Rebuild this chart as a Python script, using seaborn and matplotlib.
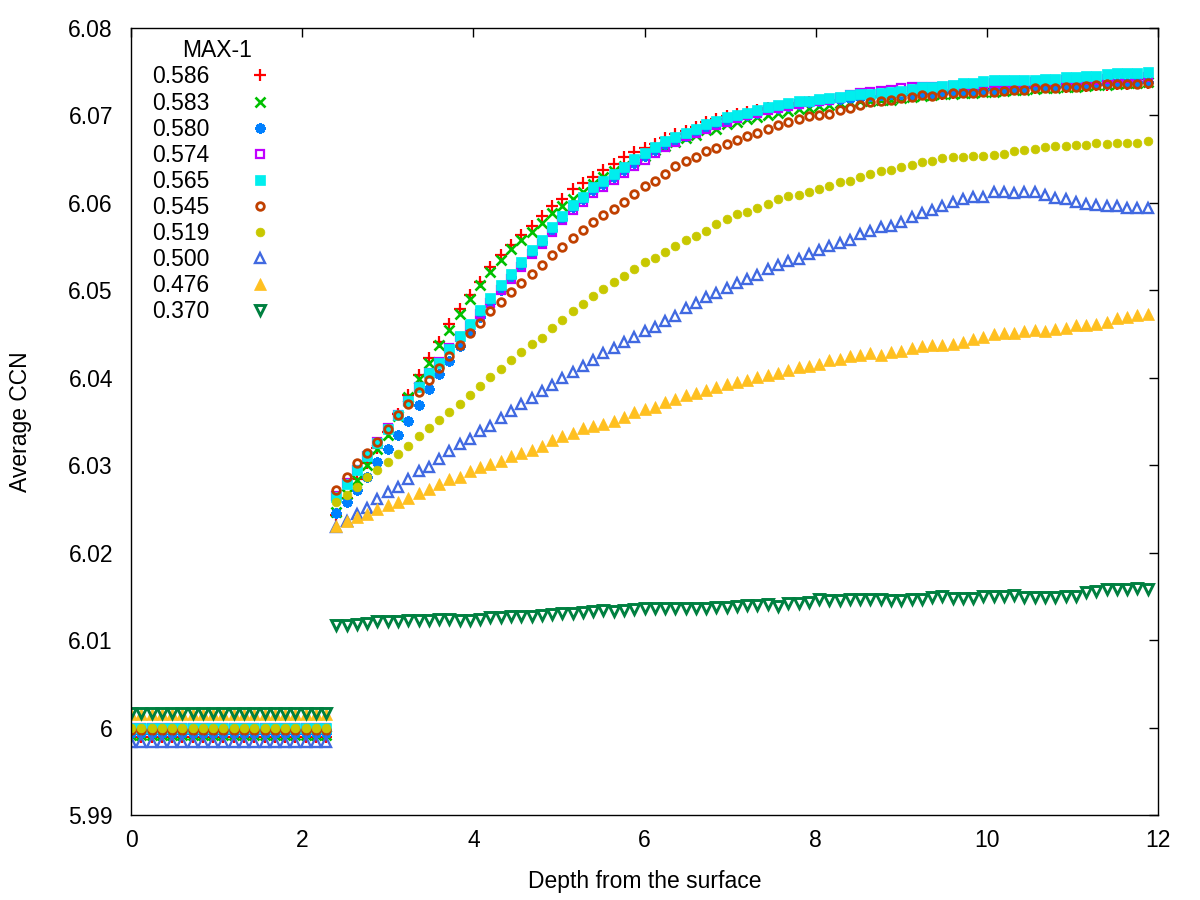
import numpy as np
import pandas as pd
import matplotlib
matplotlib.use("Agg")
import matplotlib.pyplot as plt
import seaborn as sns

# depth grid: 100 samples, 0.12 apart; first 20 are the flat surface layer
depth = np.round(np.arange(100) * 0.12, 2)

labels = ["0.586", "0.583", "0.580", "0.574", "0.565", "0.545", "0.519", "0.500", "0.476", "0.370"]

# level of the flat part (depth 0 .. 2.28)
flat_levels = [5.9989, 5.9991, 5.9994, 5.9999, 5.9999, 5.9997, 6.0000, 5.9983, 6.0015, 6.0017]

# values from depth 2.40 to 11.88
ccn_586 = [6.0243, 6.0262, 6.0284, 6.0302, 6.0320, 6.0338, 6.0359, 6.0380, 6.0403, 6.0423,
           6.0441, 6.0461, 6.0479, 6.0495, 6.0510, 6.0527, 6.0540, 6.0552, 6.0563, 6.0574,
           6.0585, 6.0596, 6.0604, 6.0616, 6.0623, 6.0630, 6.0638, 6.0645, 6.0652, 6.0658,
           6.0663, 6.0667, 6.0674, 6.0679, 6.0682, 6.0687, 6.0692, 6.0696, 6.0699, 6.0702,
           6.0704, 6.0706, 6.0708, 6.0710, 6.0712, 6.0714, 6.0715, 6.0716, 6.0717, 6.0718,
           6.0719, 6.0720, 6.0721, 6.0721, 6.0722, 6.0722, 6.0723, 6.0724, 6.0724, 6.0725,
           6.0726, 6.0727, 6.0728, 6.0728, 6.0729, 6.0730, 6.0730, 6.0731, 6.0731, 6.0732,
           6.0732, 6.0733, 6.0734, 6.0734, 6.0735, 6.0735, 6.0736, 6.0736, 6.0737, 6.0737]

ccn_583 = [6.0247, 6.0267, 6.0283, 6.0300, 6.0318, 6.0335, 6.0356, 6.0378, 6.0399, 6.0417,
           6.0437, 6.0455, 6.0473, 6.0490, 6.0506, 6.0521, 6.0535, 6.0547, 6.0558, 6.0567,
           6.0577, 6.0588, 6.0597, 6.0605, 6.0613, 6.0622, 6.0630, 6.0636, 6.0642, 6.0648,
           6.0654, 6.0660, 6.0665, 6.0670, 6.0674, 6.0678, 6.0683, 6.0685, 6.0690, 6.0693,
           6.0696, 6.0698, 6.0700, 6.0703, 6.0705, 6.0707, 6.0709, 6.0711, 6.0712, 6.0714,
           6.0715, 6.0716, 6.0717, 6.0718, 6.0718, 6.0720, 6.0721, 6.0722, 6.0723, 6.0724,
           6.0725, 6.0726, 6.0726, 6.0727, 6.0727, 6.0728, 6.0729, 6.0729, 6.0730, 6.0731,
           6.0731, 6.0732, 6.0733, 6.0734, 6.0735, 6.0735, 6.0736, 6.0737, 6.0737, 6.0738]

ccn_580 = [6.0245, 6.0258, 6.0272, 6.0287, 6.0304, 6.0319, 6.0335, 6.0351, 6.0369, 6.0387,
           6.0404, 6.0419, 6.0436, 6.0452, 6.0469, 6.0485, 6.0500, 6.0515, 6.0529, 6.0543,
           6.0555, 6.0569, 6.0582, 6.0595, 6.0604, 6.0615, 6.0622, 6.0630, 6.0638, 6.0646,
           6.0654, 6.0661, 6.0667, 6.0672, 6.0677, 6.0681, 6.0687, 6.0691, 6.0695, 6.0698,
           6.0700, 6.0703, 6.0707, 6.0709, 6.0711, 6.0713, 6.0715, 6.0717, 6.0718, 6.0719,
           6.0720, 6.0721, 6.0722, 6.0723, 6.0724, 6.0725, 6.0725, 6.0726, 6.0726, 6.0727,
           6.0727, 6.0728, 6.0729, 6.0729, 6.0730, 6.0731, 6.0731, 6.0732, 6.0732, 6.0733,
           6.0733, 6.0734, 6.0735, 6.0735, 6.0736, 6.0736, 6.0737, 6.0737, 6.0738, 6.0738]

ccn_574 = [6.0265, 6.0280, 6.0295, 6.0311, 6.0326, 6.0342, 6.0358, 6.0374, 6.0390, 6.0406,
           6.0418, 6.0434, 6.0447, 6.0459, 6.0473, 6.0486, 6.0500, 6.0513, 6.0527, 6.0541,
           6.0553, 6.0567, 6.0580, 6.0592, 6.0601, 6.0611, 6.0618, 6.0626, 6.0634, 6.0642,
           6.0649, 6.0657, 6.0664, 6.0670, 6.0676, 6.0680, 6.0685, 6.0689, 6.0693, 6.0697,
           6.0701, 6.0703, 6.0706, 6.0709, 6.0711, 6.0713, 6.0715, 6.0717, 6.0718, 6.0720,
           6.0723, 6.0726, 6.0727, 6.0728, 6.0729, 6.0731, 6.0732, 6.0732, 6.0733, 6.0733,
           6.0734, 6.0735, 6.0735, 6.0736, 6.0737, 6.0737, 6.0737, 6.0738, 6.0738, 6.0739,
           6.0739, 6.0740, 6.0740, 6.0741, 6.0741, 6.0742, 6.0743, 6.0743, 6.0744, 6.0744]

ccn_565 = [6.0264, 6.0279, 6.0294, 6.0310, 6.0325, 6.0341, 6.0357, 6.0373, 6.0389, 6.0405,
           6.0417, 6.0433, 6.0448, 6.0462, 6.0477, 6.0491, 6.0506, 6.0519, 6.0532, 6.0546,
           6.0558, 6.0572, 6.0585, 6.0598, 6.0607, 6.0618, 6.0625, 6.0633, 6.0641, 6.0650,
           6.0657, 6.0664, 6.0671, 6.0675, 6.0680, 6.0684, 6.0690, 6.0694, 6.0698, 6.0701,
           6.0703, 6.0706, 6.0710, 6.0712, 6.0714, 6.0716, 6.0717, 6.0719, 6.0720, 6.0721,
           6.0723, 6.0724, 6.0725, 6.0726, 6.0727, 6.0728, 6.0730, 6.0732, 6.0733, 6.0734,
           6.0735, 6.0737, 6.0737, 6.0739, 6.0740, 6.0741, 6.0741, 6.0741, 6.0741, 6.0742,
           6.0742, 6.0744, 6.0744, 6.0745, 6.0745, 6.0747, 6.0748, 6.0749, 6.0749, 6.0750]

ccn_545 = [6.0272, 6.0286, 6.0302, 6.0314, 6.0327, 6.0341, 6.0357, 6.0370, 6.0384, 6.0398,
           6.0411, 6.0425, 6.0438, 6.0451, 6.0463, 6.0476, 6.0487, 6.0498, 6.0508, 6.0519,
           6.0529, 6.0540, 6.0550, 6.0560, 6.0569, 6.0578, 6.0586, 6.0593, 6.0601, 6.0610,
           6.0619, 6.0625, 6.0633, 6.0642, 6.0648, 6.0653, 6.0659, 6.0663, 6.0667, 6.0672,
           6.0676, 6.0680, 6.0685, 6.0689, 6.0692, 6.0696, 6.0699, 6.0700, 6.0702, 6.0706,
           6.0709, 6.0712, 6.0715, 6.0717, 6.0718, 6.0720, 6.0721, 6.0723, 6.0722, 6.0725,
           6.0726, 6.0726, 6.0726, 6.0727, 6.0727, 6.0728, 6.0729, 6.0729, 6.0731, 6.0731,
           6.0731, 6.0732, 6.0733, 6.0734, 6.0735, 6.0736, 6.0736, 6.0736, 6.0736, 6.0737]

ccn_519 = [6.0258, 6.0266, 6.0275, 6.0286, 6.0295, 6.0304, 6.0313, 6.0322, 6.0333, 6.0343,
           6.0352, 6.0361, 6.0370, 6.0380, 6.0391, 6.0401, 6.0410, 6.0420, 6.0429, 6.0439,
           6.0446, 6.0457, 6.0466, 6.0476, 6.0484, 6.0493, 6.0501, 6.0509, 6.0516, 6.0524,
           6.0532, 6.0537, 6.0544, 6.0551, 6.0557, 6.0562, 6.0568, 6.0576, 6.0582, 6.0587,
           6.0590, 6.0594, 6.0599, 6.0604, 6.0608, 6.0609, 6.0613, 6.0616, 6.0619, 6.0624,
           6.0625, 6.0630, 6.0633, 6.0636, 6.0638, 6.0641, 6.0643, 6.0647, 6.0648, 6.0651,
           6.0652, 6.0653, 6.0654, 6.0654, 6.0655, 6.0656, 6.0659, 6.0660, 6.0662, 6.0664,
           6.0665, 6.0665, 6.0666, 6.0666, 6.0668, 6.0667, 6.0669, 6.0669, 6.0669, 6.0671]

ccn_500 = [6.0229, 6.0236, 6.0244, 6.0251, 6.0261, 6.0269, 6.0275, 6.0284, 6.0293, 6.0298,
           6.0307, 6.0316, 6.0324, 6.0330, 6.0339, 6.0345, 6.0354, 6.0362, 6.0370, 6.0377,
           6.0385, 6.0392, 6.0400, 6.0407, 6.0413, 6.0420, 6.0428, 6.0434, 6.0441, 6.0447,
           6.0453, 6.0458, 6.0465, 6.0471, 6.0480, 6.0486, 6.0492, 6.0497, 6.0503, 6.0508,
           6.0513, 6.0517, 6.0524, 6.0529, 6.0533, 6.0536, 6.0541, 6.0546, 6.0551, 6.0554,
           6.0558, 6.0564, 6.0568, 6.0572, 6.0574, 6.0578, 6.0584, 6.0589, 6.0592, 6.0596,
           6.0601, 6.0605, 6.0607, 6.0607, 6.0612, 6.0612, 6.0611, 6.0612, 6.0613, 6.0609,
           6.0606, 6.0605, 6.0601, 6.0599, 6.0598, 6.0597, 6.0596, 6.0594, 6.0594, 6.0594]

ccn_476 = [6.0231, 6.0236, 6.0241, 6.0244, 6.0250, 6.0254, 6.0258, 6.0263, 6.0268, 6.0273,
           6.0279, 6.0284, 6.0287, 6.0293, 6.0298, 6.0301, 6.0305, 6.0311, 6.0314, 6.0317,
           6.0322, 6.0329, 6.0333, 6.0337, 6.0343, 6.0345, 6.0347, 6.0351, 6.0355, 6.0361,
           6.0364, 6.0367, 6.0372, 6.0376, 6.0380, 6.0383, 6.0386, 6.0389, 6.0393, 6.0395,
           6.0398, 6.0401, 6.0403, 6.0405, 6.0409, 6.0412, 6.0414, 6.0416, 6.0420, 6.0422,
           6.0425, 6.0426, 6.0428, 6.0426, 6.0430, 6.0431, 6.0434, 6.0436, 6.0437, 6.0438,
           6.0439, 6.0441, 6.0444, 6.0447, 6.0450, 6.0451, 6.0451, 6.0453, 6.0455, 6.0454,
           6.0456, 6.0457, 6.0460, 6.0460, 6.0462, 6.0464, 6.0468, 6.0470, 6.0472, 6.0473]

ccn_370 = [6.0117, 6.0117, 6.0118, 6.0120, 6.0122, 6.0122, 6.0122, 6.0123, 6.0123, 6.0123,
           6.0124, 6.0124, 6.0123, 6.0123, 6.0124, 6.0126, 6.0126, 6.0128, 6.0128, 6.0128,
           6.0129, 6.0130, 6.0131, 6.0131, 6.0132, 6.0133, 6.0134, 6.0133, 6.0134, 6.0136,
           6.0137, 6.0137, 6.0137, 6.0137, 6.0137, 6.0137, 6.0137, 6.0138, 6.0138, 6.0139,
           6.0140, 6.0140, 6.0141, 6.0139, 6.0142, 6.0142, 6.0144, 6.0147, 6.0146, 6.0146,
           6.0147, 6.0147, 6.0147, 6.0147, 6.0146, 6.0146, 6.0147, 6.0147, 6.0149, 6.0150,
           6.0148, 6.0148, 6.0148, 6.0150, 6.0151, 6.0151, 6.0152, 6.0149, 6.0149, 6.0149,
           6.0149, 6.0151, 6.0151, 6.0155, 6.0156, 6.0158, 6.0158, 6.0158, 6.0160, 6.0158]

curves = [ccn_586, ccn_583, ccn_580, ccn_574, ccn_565, ccn_545, ccn_519, ccn_500, ccn_476, ccn_370]

x_ticks = [0, 2, 4, 6, 8, 10, 12]
x_ticklabels = ["0", "2", "4", "6", "8", "10", "12"]
y_ticks = [5.99, 6.00, 6.01, 6.02, 6.03, 6.04, 6.05, 6.06, 6.07, 6.08]
y_ticklabels = ["5.99", "6", "6.01", "6.02", "6.03", "6.04", "6.05", "6.06", "6.07", "6.08"]

# gnuplot-like point styles: (marker, color, filled, size, edge width)
styles = [
    ("+", "#ff0000", True, 9, 1.6),
    ("x", "#00c000", True, 7, 1.9),
    ((8, 2, 0), "#0080ff", True, 7.5, 2.0),
    ("s", "#c000ff", False, 6, 1.6),
    ("s", "#00eeee", True, 6.5, 0.5),
    ("o", "#c04000", False, 5.5, 2.0),
    ("o", "#c8c800", True, 6.3, 0.5),
    ("^", "#4169e1", False, 7.5, 1.7),
    ("^", "#ffc020", True, 8, 0.5),
    ("v", "#008040", False, 7, 2.1),
]

sns.set_theme(style="white")
plt.rcParams["font.family"] = ["Liberation Sans", "DejaVu Sans"]
plt.rcParams["text.color"] = "black"
plt.rcParams["axes.labelcolor"] = "black"
plt.rcParams["xtick.color"] = "black"
plt.rcParams["ytick.color"] = "black"

fig = plt.figure(figsize=(12, 9), dpi=100)
ax = fig.add_axes([131 / 1200, 85 / 900, 1027 / 1200, 787 / 900])

for lab, lev, curve, (mk, col, filled, ms, mew) in zip(labels, flat_levels, curves, styles):
    df = pd.DataFrame({"depth": depth, "ccn": [lev] * 20 + curve})
    sns.lineplot(data=df, x="depth", y="ccn", ax=ax, estimator=None, sort=False,
                 linestyle="", marker=mk, markersize=ms, color=col,
                 markerfacecolor=col if filled else "none",
                 markeredgecolor=col, markeredgewidth=mew, label=lab)

ax.set_xlim(0, 12)
ax.set_ylim(5.99, 6.08)
ax.set_xticks(x_ticks)
ax.set_xticklabels(x_ticklabels)
ax.set_yticks(y_ticks)
ax.set_yticklabels(y_ticklabels)
ax.tick_params(direction="in", length=6.5, width=1, top=True, right=True,
               labelsize=16.5, colors="black")
ax.tick_params(axis="y", pad=13)
ax.tick_params(axis="x", pad=10)
for sp in ax.spines.values():
    sp.set_color("black")
    sp.set_linewidth(1.0)

ax.set_xlabel("Depth from the surface", fontsize=16.5, color="black")
ax.set_ylabel("Average CCN", fontsize=16.5, color="black")
ax.xaxis.set_label_coords(0.5, -0.070)
ax.yaxis.set_label_coords(-0.096, 0.5)

leg = ax.legend(loc="upper left", bbox_to_anchor=(0.007, 1.003), frameon=False,
                markerfirst=False, title="MAX-1", fontsize=16.5, title_fontsize=16.5,
                handletextpad=1.2, labelspacing=0.135, borderaxespad=0.2, numpoints=1)
for t in leg.get_texts():
    t.set_color("black")
leg.get_title().set_color("black")

fig.savefig("out.png", dpi=100, facecolor="white")
